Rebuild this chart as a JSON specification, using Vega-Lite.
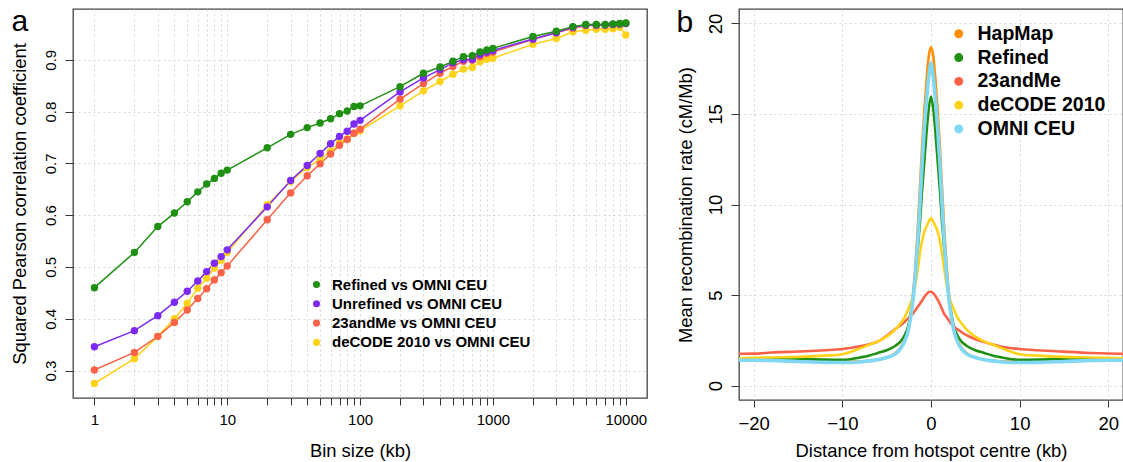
{
  "$schema": "https://vega.github.io/schema/vega-lite/v6.json",
  "background": "white",
  "padding": {"left": 9, "top": 5, "right": 0, "bottom": 0},
  "config": {
    "font": "Liberation Sans",
    "view": {"stroke": "#444444", "strokeWidth": 1.3},
    "axis": {"gridColor": "#d6d6d6", "gridDash": [2, 3], "gridWidth": 1, "tickColor": "#333333", "domain": false, "labelColor": "black", "titleColor": "black", "titleFontWeight": "normal", "labelOverlap": false, "labelFlush": false, "labelBound": false}
  },
  "datasets": {
    "a": [
      {"series": "deCODE 2010 vs OMNI CEU", "bin": 1, "r2": 0.275}, {"series": "deCODE 2010 vs OMNI CEU", "bin": 2, "r2": 0.323}, {"series": "deCODE 2010 vs OMNI CEU", "bin": 3, "r2": 0.366}, {"series": "deCODE 2010 vs OMNI CEU", "bin": 4, "r2": 0.400}, {"series": "deCODE 2010 vs OMNI CEU", "bin": 5, "r2": 0.430}, {"series": "deCODE 2010 vs OMNI CEU", "bin": 6, "r2": 0.459}, {"series": "deCODE 2010 vs OMNI CEU", "bin": 7, "r2": 0.478}, {"series": "deCODE 2010 vs OMNI CEU", "bin": 8, "r2": 0.498}, {"series": "deCODE 2010 vs OMNI CEU", "bin": 9, "r2": 0.513}, {"series": "deCODE 2010 vs OMNI CEU", "bin": 10, "r2": 0.528},
      {"series": "deCODE 2010 vs OMNI CEU", "bin": 20, "r2": 0.620}, {"series": "deCODE 2010 vs OMNI CEU", "bin": 30, "r2": 0.665}, {"series": "deCODE 2010 vs OMNI CEU", "bin": 40, "r2": 0.692}, {"series": "deCODE 2010 vs OMNI CEU", "bin": 50, "r2": 0.708}, {"series": "deCODE 2010 vs OMNI CEU", "bin": 60, "r2": 0.724}, {"series": "deCODE 2010 vs OMNI CEU", "bin": 70, "r2": 0.740}, {"series": "deCODE 2010 vs OMNI CEU", "bin": 80, "r2": 0.747}, {"series": "deCODE 2010 vs OMNI CEU", "bin": 90, "r2": 0.758}, {"series": "deCODE 2010 vs OMNI CEU", "bin": 100, "r2": 0.763},
      {"series": "deCODE 2010 vs OMNI CEU", "bin": 200, "r2": 0.811}, {"series": "deCODE 2010 vs OMNI CEU", "bin": 300, "r2": 0.840}, {"series": "deCODE 2010 vs OMNI CEU", "bin": 400, "r2": 0.858}, {"series": "deCODE 2010 vs OMNI CEU", "bin": 500, "r2": 0.872}, {"series": "deCODE 2010 vs OMNI CEU", "bin": 600, "r2": 0.882}, {"series": "deCODE 2010 vs OMNI CEU", "bin": 700, "r2": 0.885}, {"series": "deCODE 2010 vs OMNI CEU", "bin": 800, "r2": 0.896}, {"series": "deCODE 2010 vs OMNI CEU", "bin": 900, "r2": 0.901}, {"series": "deCODE 2010 vs OMNI CEU", "bin": 1000, "r2": 0.903},
      {"series": "deCODE 2010 vs OMNI CEU", "bin": 2000, "r2": 0.930}, {"series": "deCODE 2010 vs OMNI CEU", "bin": 3000, "r2": 0.941}, {"series": "deCODE 2010 vs OMNI CEU", "bin": 4000, "r2": 0.954}, {"series": "deCODE 2010 vs OMNI CEU", "bin": 5000, "r2": 0.957}, {"series": "deCODE 2010 vs OMNI CEU", "bin": 6000, "r2": 0.959}, {"series": "deCODE 2010 vs OMNI CEU", "bin": 7000, "r2": 0.959}, {"series": "deCODE 2010 vs OMNI CEU", "bin": 8000, "r2": 0.960}, {"series": "deCODE 2010 vs OMNI CEU", "bin": 9000, "r2": 0.963}, {"series": "deCODE 2010 vs OMNI CEU", "bin": 10000, "r2": 0.948},

      {"series": "23andMe vs OMNI CEU", "bin": 1, "r2": 0.301}, {"series": "23andMe vs OMNI CEU", "bin": 2, "r2": 0.335}, {"series": "23andMe vs OMNI CEU", "bin": 3, "r2": 0.366}, {"series": "23andMe vs OMNI CEU", "bin": 4, "r2": 0.393}, {"series": "23andMe vs OMNI CEU", "bin": 5, "r2": 0.417}, {"series": "23andMe vs OMNI CEU", "bin": 6, "r2": 0.439}, {"series": "23andMe vs OMNI CEU", "bin": 7, "r2": 0.458}, {"series": "23andMe vs OMNI CEU", "bin": 8, "r2": 0.475}, {"series": "23andMe vs OMNI CEU", "bin": 9, "r2": 0.489}, {"series": "23andMe vs OMNI CEU", "bin": 10, "r2": 0.502},
      {"series": "23andMe vs OMNI CEU", "bin": 20, "r2": 0.591}, {"series": "23andMe vs OMNI CEU", "bin": 30, "r2": 0.643}, {"series": "23andMe vs OMNI CEU", "bin": 40, "r2": 0.676}, {"series": "23andMe vs OMNI CEU", "bin": 50, "r2": 0.699}, {"series": "23andMe vs OMNI CEU", "bin": 60, "r2": 0.718}, {"series": "23andMe vs OMNI CEU", "bin": 70, "r2": 0.735}, {"series": "23andMe vs OMNI CEU", "bin": 80, "r2": 0.746}, {"series": "23andMe vs OMNI CEU", "bin": 90, "r2": 0.758}, {"series": "23andMe vs OMNI CEU", "bin": 100, "r2": 0.766},
      {"series": "23andMe vs OMNI CEU", "bin": 200, "r2": 0.824}, {"series": "23andMe vs OMNI CEU", "bin": 300, "r2": 0.854}, {"series": "23andMe vs OMNI CEU", "bin": 400, "r2": 0.874}, {"series": "23andMe vs OMNI CEU", "bin": 500, "r2": 0.887}, {"series": "23andMe vs OMNI CEU", "bin": 600, "r2": 0.897}, {"series": "23andMe vs OMNI CEU", "bin": 700, "r2": 0.899}, {"series": "23andMe vs OMNI CEU", "bin": 800, "r2": 0.906}, {"series": "23andMe vs OMNI CEU", "bin": 900, "r2": 0.912}, {"series": "23andMe vs OMNI CEU", "bin": 1000, "r2": 0.915},
      {"series": "23andMe vs OMNI CEU", "bin": 2000, "r2": 0.939}, {"series": "23andMe vs OMNI CEU", "bin": 3000, "r2": 0.952}, {"series": "23andMe vs OMNI CEU", "bin": 4000, "r2": 0.961}, {"series": "23andMe vs OMNI CEU", "bin": 5000, "r2": 0.966}, {"series": "23andMe vs OMNI CEU", "bin": 6000, "r2": 0.966}, {"series": "23andMe vs OMNI CEU", "bin": 7000, "r2": 0.967}, {"series": "23andMe vs OMNI CEU", "bin": 8000, "r2": 0.968}, {"series": "23andMe vs OMNI CEU", "bin": 9000, "r2": 0.969}, {"series": "23andMe vs OMNI CEU", "bin": 10000, "r2": 0.970},

      {"series": "Unrefined vs OMNI CEU", "bin": 1, "r2": 0.346}, {"series": "Unrefined vs OMNI CEU", "bin": 2, "r2": 0.377}, {"series": "Unrefined vs OMNI CEU", "bin": 3, "r2": 0.406}, {"series": "Unrefined vs OMNI CEU", "bin": 4, "r2": 0.432}, {"series": "Unrefined vs OMNI CEU", "bin": 5, "r2": 0.453}, {"series": "Unrefined vs OMNI CEU", "bin": 6, "r2": 0.473}, {"series": "Unrefined vs OMNI CEU", "bin": 7, "r2": 0.491}, {"series": "Unrefined vs OMNI CEU", "bin": 8, "r2": 0.507}, {"series": "Unrefined vs OMNI CEU", "bin": 9, "r2": 0.520}, {"series": "Unrefined vs OMNI CEU", "bin": 10, "r2": 0.533},
      {"series": "Unrefined vs OMNI CEU", "bin": 20, "r2": 0.616}, {"series": "Unrefined vs OMNI CEU", "bin": 30, "r2": 0.667}, {"series": "Unrefined vs OMNI CEU", "bin": 40, "r2": 0.696}, {"series": "Unrefined vs OMNI CEU", "bin": 50, "r2": 0.719}, {"series": "Unrefined vs OMNI CEU", "bin": 60, "r2": 0.738}, {"series": "Unrefined vs OMNI CEU", "bin": 70, "r2": 0.752}, {"series": "Unrefined vs OMNI CEU", "bin": 80, "r2": 0.762}, {"series": "Unrefined vs OMNI CEU", "bin": 90, "r2": 0.776}, {"series": "Unrefined vs OMNI CEU", "bin": 100, "r2": 0.783},
      {"series": "Unrefined vs OMNI CEU", "bin": 200, "r2": 0.838}, {"series": "Unrefined vs OMNI CEU", "bin": 300, "r2": 0.865}, {"series": "Unrefined vs OMNI CEU", "bin": 400, "r2": 0.881}, {"series": "Unrefined vs OMNI CEU", "bin": 500, "r2": 0.894}, {"series": "Unrefined vs OMNI CEU", "bin": 600, "r2": 0.900}, {"series": "Unrefined vs OMNI CEU", "bin": 700, "r2": 0.901}, {"series": "Unrefined vs OMNI CEU", "bin": 800, "r2": 0.910}, {"series": "Unrefined vs OMNI CEU", "bin": 900, "r2": 0.915}, {"series": "Unrefined vs OMNI CEU", "bin": 1000, "r2": 0.918},
      {"series": "Unrefined vs OMNI CEU", "bin": 2000, "r2": 0.940}, {"series": "Unrefined vs OMNI CEU", "bin": 3000, "r2": 0.952}, {"series": "Unrefined vs OMNI CEU", "bin": 4000, "r2": 0.963}, {"series": "Unrefined vs OMNI CEU", "bin": 5000, "r2": 0.967}, {"series": "Unrefined vs OMNI CEU", "bin": 6000, "r2": 0.967}, {"series": "Unrefined vs OMNI CEU", "bin": 7000, "r2": 0.967}, {"series": "Unrefined vs OMNI CEU", "bin": 8000, "r2": 0.968}, {"series": "Unrefined vs OMNI CEU", "bin": 9000, "r2": 0.969}, {"series": "Unrefined vs OMNI CEU", "bin": 10000, "r2": 0.970},

      {"series": "Refined vs OMNI CEU", "bin": 1, "r2": 0.460}, {"series": "Refined vs OMNI CEU", "bin": 2, "r2": 0.528}, {"series": "Refined vs OMNI CEU", "bin": 3, "r2": 0.578}, {"series": "Refined vs OMNI CEU", "bin": 4, "r2": 0.604}, {"series": "Refined vs OMNI CEU", "bin": 5, "r2": 0.626}, {"series": "Refined vs OMNI CEU", "bin": 6, "r2": 0.645}, {"series": "Refined vs OMNI CEU", "bin": 7, "r2": 0.660}, {"series": "Refined vs OMNI CEU", "bin": 8, "r2": 0.671}, {"series": "Refined vs OMNI CEU", "bin": 9, "r2": 0.681}, {"series": "Refined vs OMNI CEU", "bin": 10, "r2": 0.687},
      {"series": "Refined vs OMNI CEU", "bin": 20, "r2": 0.730}, {"series": "Refined vs OMNI CEU", "bin": 30, "r2": 0.756}, {"series": "Refined vs OMNI CEU", "bin": 40, "r2": 0.769}, {"series": "Refined vs OMNI CEU", "bin": 50, "r2": 0.778}, {"series": "Refined vs OMNI CEU", "bin": 60, "r2": 0.786}, {"series": "Refined vs OMNI CEU", "bin": 70, "r2": 0.796}, {"series": "Refined vs OMNI CEU", "bin": 80, "r2": 0.801}, {"series": "Refined vs OMNI CEU", "bin": 90, "r2": 0.810}, {"series": "Refined vs OMNI CEU", "bin": 100, "r2": 0.811},
      {"series": "Refined vs OMNI CEU", "bin": 200, "r2": 0.848}, {"series": "Refined vs OMNI CEU", "bin": 300, "r2": 0.874}, {"series": "Refined vs OMNI CEU", "bin": 400, "r2": 0.886}, {"series": "Refined vs OMNI CEU", "bin": 500, "r2": 0.897}, {"series": "Refined vs OMNI CEU", "bin": 600, "r2": 0.906}, {"series": "Refined vs OMNI CEU", "bin": 700, "r2": 0.908}, {"series": "Refined vs OMNI CEU", "bin": 800, "r2": 0.915}, {"series": "Refined vs OMNI CEU", "bin": 900, "r2": 0.919}, {"series": "Refined vs OMNI CEU", "bin": 1000, "r2": 0.922},
      {"series": "Refined vs OMNI CEU", "bin": 2000, "r2": 0.945}, {"series": "Refined vs OMNI CEU", "bin": 3000, "r2": 0.955}, {"series": "Refined vs OMNI CEU", "bin": 4000, "r2": 0.964}, {"series": "Refined vs OMNI CEU", "bin": 5000, "r2": 0.968}, {"series": "Refined vs OMNI CEU", "bin": 6000, "r2": 0.968}, {"series": "Refined vs OMNI CEU", "bin": 7000, "r2": 0.968}, {"series": "Refined vs OMNI CEU", "bin": 8000, "r2": 0.969}, {"series": "Refined vs OMNI CEU", "bin": 9000, "r2": 0.970}, {"series": "Refined vs OMNI CEU", "bin": 10000, "r2": 0.971}
    ],
    "b": [
      {"series": "HapMap", "dist": -22, "rate": 1.45}, {"series": "HapMap", "dist": -20, "rate": 1.45}, {"series": "HapMap", "dist": -18, "rate": 1.45}, {"series": "HapMap", "dist": -15, "rate": 1.40}, {"series": "HapMap", "dist": -12, "rate": 1.35}, {"series": "HapMap", "dist": -10, "rate": 1.32}, {"series": "HapMap", "dist": -8, "rate": 1.33}, {"series": "HapMap", "dist": -7, "rate": 1.36}, {"series": "HapMap", "dist": -6, "rate": 1.42}, {"series": "HapMap", "dist": -5, "rate": 1.55}, {"series": "HapMap", "dist": -4, "rate": 1.8}, {"series": "HapMap", "dist": -3.5, "rate": 2.05}, {"series": "HapMap", "dist": -3, "rate": 2.5}, {"series": "HapMap", "dist": -2.5, "rate": 3.4}, {"series": "HapMap", "dist": -2, "rate": 5.2}, {"series": "HapMap", "dist": -1.75, "rate": 6.7}, {"series": "HapMap", "dist": -1.5, "rate": 8.6}, {"series": "HapMap", "dist": -1.25, "rate": 10.9}, {"series": "HapMap", "dist": -1, "rate": 13.2}, {"series": "HapMap", "dist": -0.75, "rate": 15.2}, {"series": "HapMap", "dist": -0.5, "rate": 16.9}, {"series": "HapMap", "dist": -0.25, "rate": 18.2}, {"series": "HapMap", "dist": 0, "rate": 18.68},
      {"series": "HapMap", "dist": 0.25, "rate": 18.2}, {"series": "HapMap", "dist": 0.5, "rate": 16.9}, {"series": "HapMap", "dist": 0.75, "rate": 15.2}, {"series": "HapMap", "dist": 1, "rate": 13.2}, {"series": "HapMap", "dist": 1.25, "rate": 10.9}, {"series": "HapMap", "dist": 1.5, "rate": 8.6}, {"series": "HapMap", "dist": 1.75, "rate": 6.7}, {"series": "HapMap", "dist": 2, "rate": 5.2}, {"series": "HapMap", "dist": 2.5, "rate": 3.4}, {"series": "HapMap", "dist": 3, "rate": 2.5}, {"series": "HapMap", "dist": 3.5, "rate": 2.05}, {"series": "HapMap", "dist": 4, "rate": 1.8}, {"series": "HapMap", "dist": 5, "rate": 1.55}, {"series": "HapMap", "dist": 6, "rate": 1.42}, {"series": "HapMap", "dist": 7, "rate": 1.36}, {"series": "HapMap", "dist": 8, "rate": 1.33}, {"series": "HapMap", "dist": 10, "rate": 1.32}, {"series": "HapMap", "dist": 12, "rate": 1.35}, {"series": "HapMap", "dist": 15, "rate": 1.40}, {"series": "HapMap", "dist": 18, "rate": 1.45}, {"series": "HapMap", "dist": 20, "rate": 1.45}, {"series": "HapMap", "dist": 22, "rate": 1.45},

      {"series": "Refined", "dist": -22, "rate": 1.5}, {"series": "Refined", "dist": -20, "rate": 1.5}, {"series": "Refined", "dist": -18, "rate": 1.5}, {"series": "Refined", "dist": -15, "rate": 1.48}, {"series": "Refined", "dist": -12, "rate": 1.43}, {"series": "Refined", "dist": -10, "rate": 1.42}, {"series": "Refined", "dist": -8, "rate": 1.55}, {"series": "Refined", "dist": -7, "rate": 1.65}, {"series": "Refined", "dist": -6, "rate": 1.8}, {"series": "Refined", "dist": -5, "rate": 1.95}, {"series": "Refined", "dist": -4, "rate": 2.2}, {"series": "Refined", "dist": -3.5, "rate": 2.4}, {"series": "Refined", "dist": -3, "rate": 2.75}, {"series": "Refined", "dist": -2.5, "rate": 3.4}, {"series": "Refined", "dist": -2, "rate": 4.9}, {"series": "Refined", "dist": -1.75, "rate": 6.1}, {"series": "Refined", "dist": -1.5, "rate": 7.5}, {"series": "Refined", "dist": -1.25, "rate": 9.0}, {"series": "Refined", "dist": -1, "rate": 10.8}, {"series": "Refined", "dist": -0.75, "rate": 12.4}, {"series": "Refined", "dist": -0.5, "rate": 14.0}, {"series": "Refined", "dist": -0.25, "rate": 15.3}, {"series": "Refined", "dist": 0, "rate": 15.96},
      {"series": "Refined", "dist": 0.25, "rate": 15.3}, {"series": "Refined", "dist": 0.5, "rate": 14.0}, {"series": "Refined", "dist": 0.75, "rate": 12.4}, {"series": "Refined", "dist": 1, "rate": 10.8}, {"series": "Refined", "dist": 1.25, "rate": 9.0}, {"series": "Refined", "dist": 1.5, "rate": 7.5}, {"series": "Refined", "dist": 1.75, "rate": 6.1}, {"series": "Refined", "dist": 2, "rate": 4.9}, {"series": "Refined", "dist": 2.5, "rate": 3.4}, {"series": "Refined", "dist": 3, "rate": 2.75}, {"series": "Refined", "dist": 3.5, "rate": 2.4}, {"series": "Refined", "dist": 4, "rate": 2.2}, {"series": "Refined", "dist": 5, "rate": 1.95}, {"series": "Refined", "dist": 6, "rate": 1.8}, {"series": "Refined", "dist": 7, "rate": 1.65}, {"series": "Refined", "dist": 8, "rate": 1.55}, {"series": "Refined", "dist": 10, "rate": 1.42}, {"series": "Refined", "dist": 12, "rate": 1.43}, {"series": "Refined", "dist": 15, "rate": 1.48}, {"series": "Refined", "dist": 18, "rate": 1.5}, {"series": "Refined", "dist": 20, "rate": 1.5}, {"series": "Refined", "dist": 22, "rate": 1.5},

      {"series": "23andMe", "dist": -22, "rate": 1.75}, {"series": "23andMe", "dist": -20, "rate": 1.76}, {"series": "23andMe", "dist": -18, "rate": 1.82}, {"series": "23andMe", "dist": -15, "rate": 1.88}, {"series": "23andMe", "dist": -12, "rate": 1.95}, {"series": "23andMe", "dist": -10, "rate": 2.02}, {"series": "23andMe", "dist": -8, "rate": 2.17}, {"series": "23andMe", "dist": -7, "rate": 2.28}, {"series": "23andMe", "dist": -6, "rate": 2.43}, {"series": "23andMe", "dist": -5, "rate": 2.75}, {"series": "23andMe", "dist": -4, "rate": 3.13}, {"series": "23andMe", "dist": -3.5, "rate": 3.3}, {"series": "23andMe", "dist": -3, "rate": 3.5}, {"series": "23andMe", "dist": -2.5, "rate": 3.75}, {"series": "23andMe", "dist": -2, "rate": 4.0}, {"series": "23andMe", "dist": -1.75, "rate": 4.17}, {"series": "23andMe", "dist": -1.5, "rate": 4.35}, {"series": "23andMe", "dist": -1.25, "rate": 4.52}, {"series": "23andMe", "dist": -1, "rate": 4.7}, {"series": "23andMe", "dist": -0.75, "rate": 4.9}, {"series": "23andMe", "dist": -0.5, "rate": 5.05}, {"series": "23andMe", "dist": -0.25, "rate": 5.17}, {"series": "23andMe", "dist": 0, "rate": 5.18},
      {"series": "23andMe", "dist": 0.25, "rate": 5.1}, {"series": "23andMe", "dist": 0.5, "rate": 4.95}, {"series": "23andMe", "dist": 0.75, "rate": 4.75}, {"series": "23andMe", "dist": 1, "rate": 4.5}, {"series": "23andMe", "dist": 1.25, "rate": 4.22}, {"series": "23andMe", "dist": 1.5, "rate": 3.95}, {"series": "23andMe", "dist": 1.75, "rate": 3.78}, {"series": "23andMe", "dist": 2, "rate": 3.6}, {"series": "23andMe", "dist": 2.5, "rate": 3.28}, {"series": "23andMe", "dist": 3, "rate": 3.1}, {"series": "23andMe", "dist": 3.5, "rate": 2.93}, {"series": "23andMe", "dist": 4, "rate": 2.78}, {"series": "23andMe", "dist": 5, "rate": 2.56}, {"series": "23andMe", "dist": 6, "rate": 2.4}, {"series": "23andMe", "dist": 7, "rate": 2.27}, {"series": "23andMe", "dist": 8, "rate": 2.14}, {"series": "23andMe", "dist": 10, "rate": 2.02}, {"series": "23andMe", "dist": 12, "rate": 1.95}, {"series": "23andMe", "dist": 15, "rate": 1.87}, {"series": "23andMe", "dist": 18, "rate": 1.8}, {"series": "23andMe", "dist": 20, "rate": 1.77}, {"series": "23andMe", "dist": 22, "rate": 1.75},

      {"series": "deCODE 2010", "dist": -22, "rate": 1.5}, {"series": "deCODE 2010", "dist": -20, "rate": 1.53}, {"series": "deCODE 2010", "dist": -18, "rate": 1.55}, {"series": "deCODE 2010", "dist": -15, "rate": 1.58}, {"series": "deCODE 2010", "dist": -12, "rate": 1.65}, {"series": "deCODE 2010", "dist": -10, "rate": 1.73}, {"series": "deCODE 2010", "dist": -8, "rate": 2.05}, {"series": "deCODE 2010", "dist": -7, "rate": 2.25}, {"series": "deCODE 2010", "dist": -6, "rate": 2.44}, {"series": "deCODE 2010", "dist": -5, "rate": 2.7}, {"series": "deCODE 2010", "dist": -4, "rate": 3.1}, {"series": "deCODE 2010", "dist": -3.5, "rate": 3.4}, {"series": "deCODE 2010", "dist": -3, "rate": 3.75}, {"series": "deCODE 2010", "dist": -2.5, "rate": 4.3}, {"series": "deCODE 2010", "dist": -2, "rate": 5.0}, {"series": "deCODE 2010", "dist": -1.75, "rate": 5.6}, {"series": "deCODE 2010", "dist": -1.5, "rate": 6.4}, {"series": "deCODE 2010", "dist": -1.25, "rate": 7.3}, {"series": "deCODE 2010", "dist": -1, "rate": 8.0}, {"series": "deCODE 2010", "dist": -0.75, "rate": 8.5}, {"series": "deCODE 2010", "dist": -0.5, "rate": 8.8}, {"series": "deCODE 2010", "dist": -0.25, "rate": 9.05}, {"series": "deCODE 2010", "dist": 0, "rate": 9.25},
      {"series": "deCODE 2010", "dist": 0.25, "rate": 9.05}, {"series": "deCODE 2010", "dist": 0.5, "rate": 8.8}, {"series": "deCODE 2010", "dist": 0.75, "rate": 8.5}, {"series": "deCODE 2010", "dist": 1, "rate": 8.0}, {"series": "deCODE 2010", "dist": 1.25, "rate": 7.3}, {"series": "deCODE 2010", "dist": 1.5, "rate": 6.4}, {"series": "deCODE 2010", "dist": 1.75, "rate": 5.6}, {"series": "deCODE 2010", "dist": 2, "rate": 5.0}, {"series": "deCODE 2010", "dist": 2.5, "rate": 4.3}, {"series": "deCODE 2010", "dist": 3, "rate": 3.75}, {"series": "deCODE 2010", "dist": 3.5, "rate": 3.4}, {"series": "deCODE 2010", "dist": 4, "rate": 3.1}, {"series": "deCODE 2010", "dist": 5, "rate": 2.7}, {"series": "deCODE 2010", "dist": 6, "rate": 2.44}, {"series": "deCODE 2010", "dist": 7, "rate": 2.25}, {"series": "deCODE 2010", "dist": 8, "rate": 2.05}, {"series": "deCODE 2010", "dist": 10, "rate": 1.73}, {"series": "deCODE 2010", "dist": 12, "rate": 1.65}, {"series": "deCODE 2010", "dist": 15, "rate": 1.58}, {"series": "deCODE 2010", "dist": 18, "rate": 1.55}, {"series": "deCODE 2010", "dist": 20, "rate": 1.53}, {"series": "deCODE 2010", "dist": 22, "rate": 1.5},

      {"series": "OMNI CEU", "dist": -22, "rate": 1.40}, {"series": "OMNI CEU", "dist": -20, "rate": 1.40}, {"series": "OMNI CEU", "dist": -18, "rate": 1.38}, {"series": "OMNI CEU", "dist": -15, "rate": 1.33}, {"series": "OMNI CEU", "dist": -12, "rate": 1.28}, {"series": "OMNI CEU", "dist": -10, "rate": 1.27}, {"series": "OMNI CEU", "dist": -8, "rate": 1.30}, {"series": "OMNI CEU", "dist": -7, "rate": 1.36}, {"series": "OMNI CEU", "dist": -6, "rate": 1.42}, {"series": "OMNI CEU", "dist": -5, "rate": 1.55}, {"series": "OMNI CEU", "dist": -4, "rate": 1.75}, {"series": "OMNI CEU", "dist": -3.5, "rate": 2.0}, {"series": "OMNI CEU", "dist": -3, "rate": 2.4}, {"series": "OMNI CEU", "dist": -2.5, "rate": 3.2}, {"series": "OMNI CEU", "dist": -2, "rate": 4.9}, {"series": "OMNI CEU", "dist": -1.75, "rate": 6.2}, {"series": "OMNI CEU", "dist": -1.5, "rate": 7.9}, {"series": "OMNI CEU", "dist": -1.25, "rate": 10.0}, {"series": "OMNI CEU", "dist": -1, "rate": 12.3}, {"series": "OMNI CEU", "dist": -0.75, "rate": 14.2}, {"series": "OMNI CEU", "dist": -0.5, "rate": 15.8}, {"series": "OMNI CEU", "dist": -0.25, "rate": 17.1}, {"series": "OMNI CEU", "dist": 0, "rate": 17.8},
      {"series": "OMNI CEU", "dist": 0.25, "rate": 17.1}, {"series": "OMNI CEU", "dist": 0.5, "rate": 15.8}, {"series": "OMNI CEU", "dist": 0.75, "rate": 14.2}, {"series": "OMNI CEU", "dist": 1, "rate": 12.3}, {"series": "OMNI CEU", "dist": 1.25, "rate": 10.0}, {"series": "OMNI CEU", "dist": 1.5, "rate": 7.9}, {"series": "OMNI CEU", "dist": 1.75, "rate": 6.2}, {"series": "OMNI CEU", "dist": 2, "rate": 4.9}, {"series": "OMNI CEU", "dist": 2.5, "rate": 3.2}, {"series": "OMNI CEU", "dist": 3, "rate": 2.4}, {"series": "OMNI CEU", "dist": 3.5, "rate": 2.0}, {"series": "OMNI CEU", "dist": 4, "rate": 1.75}, {"series": "OMNI CEU", "dist": 5, "rate": 1.55}, {"series": "OMNI CEU", "dist": 6, "rate": 1.42}, {"series": "OMNI CEU", "dist": 7, "rate": 1.36}, {"series": "OMNI CEU", "dist": 8, "rate": 1.30}, {"series": "OMNI CEU", "dist": 10, "rate": 1.27}, {"series": "OMNI CEU", "dist": 12, "rate": 1.28}, {"series": "OMNI CEU", "dist": 15, "rate": 1.33}, {"series": "OMNI CEU", "dist": 18, "rate": 1.38}, {"series": "OMNI CEU", "dist": 20, "rate": 1.40}, {"series": "OMNI CEU", "dist": 22, "rate": 1.40}
    ]
  },
  "spacing": 27,
  "resolve": {"scale": {"color": "independent", "stroke": "independent"}, "legend": {"color": "independent"}},
  "hconcat": [
    {
      "width": 574,
      "height": 389,
      "data": {"name": "a"},
      "resolve": {"axis": {"x": "independent"}},
      "layer": [
        {
          "mark": {"type": "line", "strokeWidth": 1.5},
          "encoding": {
            "x": {"field": "bin", "type": "quantitative", "scale": {"type": "log", "domain": [0.69, 14454], "nice": false},
              "axis": {"orient": "bottom", "title": "Bin size (kb)", "values": [1,2,3,4,5,6,7,8,9,10,20,30,40,50,60,70,80,90,100,200,300,400,500,600,700,800,900,1000,2000,3000,4000,5000,6000,7000,8000,9000,10000],
                "labelExpr": "indexof([1,10,100,1000,10000], datum.value) >= 0 ? format(datum.value, 'd') : ''",
                "labelFontSize": 15, "labelPadding": 7, "tickSize": 7, "titleFontSize": 18.4, "titlePadding": 14}},
            "y": {"field": "r2", "type": "quantitative", "scale": {"domain": [0.247, 0.998], "nice": false, "zero": false},
              "axis": {"title": "Squared Pearson correlation coefficient", "values": [0.3,0.4,0.5,0.6,0.7,0.8,0.9], "labelAngle": 270, "labelAlign": "center", "labelBaseline": "bottom",
                "encode": {"labels": {"update": {"angle": {"value": 270}, "align": {"value": "center"}, "baseline": {"value": "bottom"}}}},
                "labelFontSize": 15, "labelPadding": 6.5, "tickSize": 8, "titleFontSize": 18.4, "titlePadding": 14}},
            "stroke": {"field": "series", "type": "nominal", "legend": null,
              "scale": {"domain": ["deCODE 2010 vs OMNI CEU", "23andMe vs OMNI CEU", "Unrefined vs OMNI CEU", "Refined vs OMNI CEU"], "range": ["#ffd21a", "#fb6248", "#7d2af5", "#1f9012"]}}
          }
        },
        {
          "mark": {"type": "point", "filled": true, "size": 55, "opacity": 1},
          "encoding": {
            "x": {"field": "bin", "type": "quantitative", "scale": {"type": "log", "domain": [0.69, 14454], "nice": false},
              "axis": {"orient": "top", "title": "a", "titleX": -62, "titleY": 21, "titleAngle": 0, "titleAlign": "left", "titleBaseline": "alphabetic", "titleFontSize": 30, "titleFontWeight": "normal", "labels": false, "ticks": false, "grid": false, "domain": false}},
            "y": {"field": "r2", "type": "quantitative"},
            "color": {"field": "series", "type": "nominal",
              "scale": {"domain": ["Refined vs OMNI CEU", "Unrefined vs OMNI CEU", "23andMe vs OMNI CEU", "deCODE 2010 vs OMNI CEU"], "range": ["#1f9012", "#7d2af5", "#fb6248", "#ffd21a"]},
              "legend": {"orient": "none", "legendX": 236, "legendY": 268, "title": null, "labelFontSize": 15, "labelFontWeight": "bold", "labelColor": "black", "labelLimit": 0, "symbolType": "circle", "symbolSize": 50, "rowPadding": 3.3, "labelOffset": 8, "padding": 0}}
          }
        }
      ]
    },
    {
      "width": 384,
      "height": 391,
      "data": {"name": "b"},
      "resolve": {"axis": {"x": "independent"}},
      "layer": [
        {
          "transform": [{"filter": "datum.series != 'OMNI CEU'"}],
          "mark": {"type": "line", "clip": true, "interpolate": "monotone", "strokeWidth": 2.6},
          "encoding": {
            "x": {"field": "dist", "type": "quantitative", "scale": {"domain": [-21.66, 21.66], "nice": false, "zero": false},
              "axis": {"orient": "bottom", "title": "Distance from hotspot centre (kb)", "values": [-20, -10, 0, 10, 20], "format": "d", "labelFontSize": 18.5, "labelPadding": 7, "tickSize": 7, "titleFontSize": 18.4, "titlePadding": 9}},
            "y": {"field": "rate", "type": "quantitative", "scale": {"domain": [-0.8, 20.8], "nice": false, "zero": false},
              "axis": {"title": "Mean recombination rate (cM/Mb)", "values": [0, 5, 10, 15, 20], "labelAngle": 270, "labelAlign": "center", "labelBaseline": "bottom",
                "encode": {"labels": {"update": {"angle": {"value": 270}, "align": {"value": "center"}, "baseline": {"value": "bottom"}}}},
                "labelFontSize": 18.5, "labelPadding": 6, "tickSize": 8, "titleFontSize": 18.4, "titlePadding": 10.5}},
            "stroke": {"field": "series", "type": "nominal", "legend": null,
              "scale": {"domain": ["OMNI CEU", "deCODE 2010", "23andMe", "Refined", "HapMap"], "range": ["#80d8f5", "#ffd21a", "#fb6248", "#1f9012", "#ff8f0a"]}}
          }
        },
        {
          "transform": [{"filter": "datum.series == 'OMNI CEU'"}],
          "mark": {"type": "line", "clip": true, "interpolate": "monotone", "strokeWidth": 3.6},
          "encoding": {
            "x": {"field": "dist", "type": "quantitative", "axis": null},
            "y": {"field": "rate", "type": "quantitative"},
            "stroke": {"field": "series", "type": "nominal", "legend": null}
          }
        },
        {
          "transform": [{"filter": "datum.dist == -22"}],
          "mark": {"type": "point", "filled": true, "opacity": 1, "size": 4, "clip": true},
          "encoding": {
            "x": {"field": "dist", "type": "quantitative",
              "axis": {"orient": "top", "title": "b", "titleX": -63, "titleY": 22, "titleAngle": 0, "titleAlign": "left", "titleBaseline": "alphabetic", "titleFontSize": 30, "titleFontWeight": "normal", "labels": false, "ticks": false, "grid": false, "domain": false}},
            "y": {"field": "rate", "type": "quantitative"},
            "color": {"field": "series", "type": "nominal",
              "scale": {"domain": ["HapMap", "Refined", "23andMe", "deCODE 2010", "OMNI CEU"], "range": ["#ff8f0a", "#1f9012", "#fb6248", "#ffd21a", "#80d8f5"]},
              "legend": {"orient": "none", "legendX": 210, "legendY": 15, "title": null, "labelFontSize": 19.5, "labelFontWeight": "bold", "labelColor": "black", "labelLimit": 0, "symbolType": "circle", "symbolSize": 80, "rowPadding": 2.8, "labelOffset": 9, "padding": 0}}
          }
        }
      ]
    }
  ]
}
